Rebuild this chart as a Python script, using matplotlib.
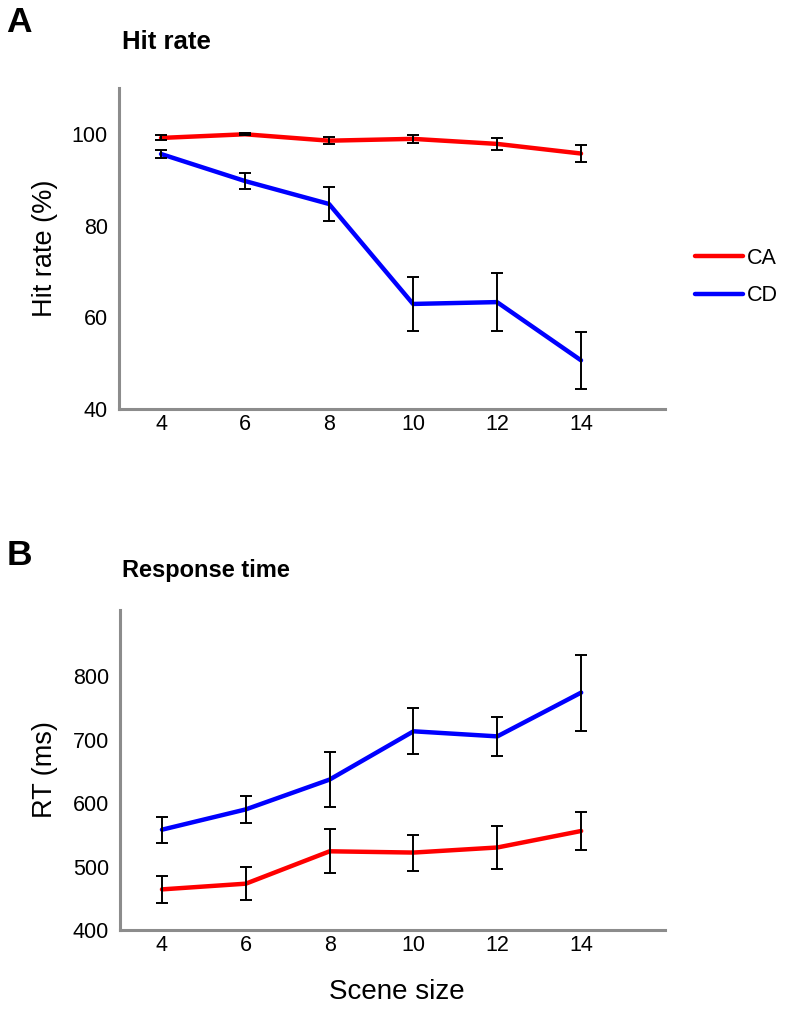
import matplotlib.pyplot as plt

plt.rcParams['font.family'] = ['Liberation Sans', 'DejaVu Sans']

# data
scene_size = [4, 6, 8, 10, 12, 14]

hit_ca = [99.1, 99.9, 98.5, 98.9, 97.8, 95.7]
hit_ca_err = [0.55, 0.2, 0.7, 0.9, 1.27, 1.8]
hit_cd = [95.6, 89.7, 84.7, 62.9, 63.3, 50.6]
hit_cd_err = [0.9, 1.8, 3.7, 5.8, 6.25, 6.2]

rt_ca = [464, 473, 524, 522, 530, 556]
rt_ca_err = [21.5, 25.7, 34.9, 28.3, 33.6, 30.2]
rt_cd = [558, 590, 637, 713, 705, 774]
rt_cd_err = [20.5, 21.8, 42.8, 36.2, 31.0, 59.8]

yticks_hit = [40, 60, 80, 100]
yticks_rt = [400, 500, 600, 700, 800]

fig = plt.figure(figsize=(7.86, 10.11), dpi=100)
axA = fig.add_axes([0.1514, 0.5955, 0.6947, 0.3175])
axB = fig.add_axes([0.1527, 0.0801, 0.6934, 0.3165])


def style_axis(ax, ylim, yticks):
    for s in ['top', 'right']:
        ax.spines[s].set_visible(False)
    for s in ['left', 'bottom']:
        ax.spines[s].set_color('#8c8c8c')
        ax.spines[s].set_linewidth(2.2)
    ax.set_xlim(3, 16)
    ax.set_ylim(*ylim)
    ax.set_xticks(scene_size)
    ax.set_yticks(yticks)
    ax.tick_params(axis='both', length=0, labelsize=15.5)
    ax.tick_params(axis='y', pad=8)
    ax.tick_params(axis='x', pad=3.5)


def draw(ax, ca, ca_err, cd, cd_err):
    l1, = ax.plot(scene_size, ca, color='#ff0000', lw=3.2, label='CA', solid_capstyle='round')
    l2, = ax.plot(scene_size, cd, color='#0000ff', lw=3.2, label='CD', solid_capstyle='round')
    ax.errorbar(scene_size, ca, yerr=ca_err, fmt='none', ecolor='black', elinewidth=1.4,
                capsize=4, capthick=1.4, zorder=3)
    ax.errorbar(scene_size, cd, yerr=cd_err, fmt='none', ecolor='black', elinewidth=1.4,
                capsize=4, capthick=1.4, zorder=3)
    return l1, l2


h1, h2 = draw(axA, hit_ca, hit_ca_err, hit_cd, hit_cd_err)
style_axis(axA, (40, 110), yticks_hit)
axA.set_ylabel('Hit rate (%)', fontsize=19.5)
axA.yaxis.set_label_coords(-0.112, 0.5)

draw(axB, rt_ca, rt_ca_err, rt_cd, rt_cd_err)
style_axis(axB, (400, 904), yticks_rt)
axB.set_ylabel('RT (ms)', fontsize=19.5)
axB.yaxis.set_label_coords(-0.114, 0.5)
axB.set_xlabel('Scene size', fontsize=20)
axB.xaxis.set_label_coords(0.508, -0.152)

# panel letters and titles
fig.text(0.008, 0.978, 'A', fontsize=25.5, fontweight='bold', va='center', ha='left')
fig.text(0.155, 0.952, 'Hit rate', fontsize=18.5, fontweight='bold', va='baseline', ha='left')
fig.text(0.008, 0.451, 'B', fontsize=25.5, fontweight='bold', va='center', ha='left')
fig.text(0.155, 0.4296, 'Response time', fontsize=17, fontweight='bold', va='baseline', ha='left')

fig.legend(handles=[h1, h2], loc='center left', bbox_to_anchor=(0.86, 0.726),
           frameon=False, fontsize=15.5, handlelength=2.2, handletextpad=0.2,
           labelspacing=0.75)

fig.savefig('out.png', dpi=100)
